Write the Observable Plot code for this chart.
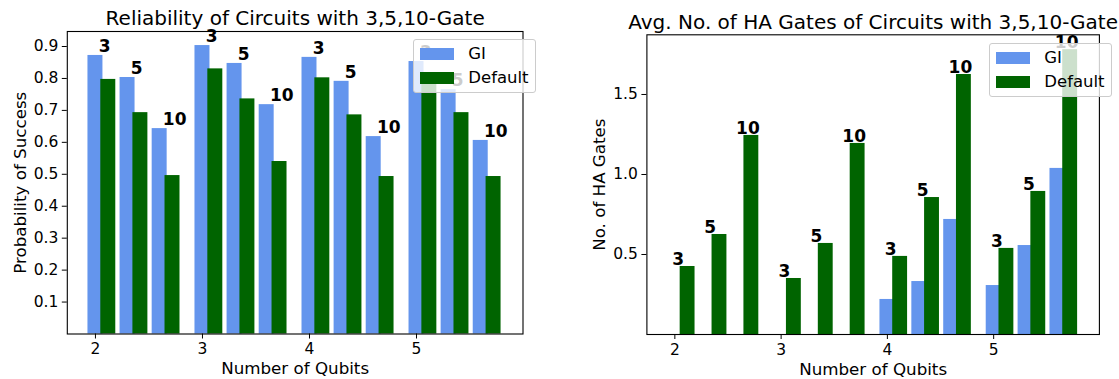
<!DOCTYPE html>
<html>
<head>
<meta charset="utf-8">
<script src="https://cdn.jsdelivr.net/npm/d3@7"></script>
<script src="https://cdn.jsdelivr.net/npm/@observablehq/plot@0.6"></script>
<style>
  html, body { margin: 0; padding: 0; background: #fff; }
  #fig { position: relative; width: 1119px; height: 379px; font-family: "DejaVu Sans", sans-serif; color: #000; }
  #fig > .panel { position: absolute; top: 0; }
  .legend { position: absolute; box-sizing: border-box; border: 1px solid #cccccc; border-radius: 3px;
            background: rgba(255,255,255,0.8); font-size: 16.5px; width: 123px; height: 54px; }
  .legend .item { position: absolute; left: 6px; height: 12px; width: 34px; }
  .legend .lab { position: absolute; left: 54px; line-height: 16px; }
</style>
</head>
<body>
<div id="fig"></div>
<script>
// ---- data ----
const qubits = [2, 3, 4, 5];
const gateLabels = ["3", "5", "10"];
const seriesNames = ["GI", "Default"];
const seriesColors = ["#6495ED", "#006400"];
// ordered by qubit, then gate count (3, 5, 10)
const giReliability      = [0.872, 0.803, 0.643, 0.903, 0.847, 0.718, 0.866, 0.791, 0.618, 0.853, 0.765, 0.606];
const defaultReliability = [0.797, 0.693, 0.496, 0.830, 0.736, 0.540, 0.802, 0.686, 0.493, 0.790, 0.693, 0.493];
const giHAGates          = [0, 0, 0, 0, 0, 0, 0.219, 0.331, 0.719, 0.306, 0.556, 1.038];
const defaultHAGates     = [0.425, 0.625, 1.244, 0.350, 0.569, 1.194, 0.488, 0.856, 1.625, 0.538, 0.894, 1.780];
const reliabilityTicks = [0.1, 0.2, 0.3, 0.4, 0.5, 0.6, 0.7, 0.8, 0.9];
const haTicks = [0.5, 1.0, 1.5];

// ---- layout constants ----
const gateOffset = [0, 0.3, 0.6];
const seriesOffset = [0, 0.12];
const barW = 0.14;

function buildRows(gi, def) {
  const rows = [];
  qubits.forEach((q, qi) => gateLabels.forEach((g, gi_) => {
    const k = qi * gateLabels.length + gi_;
    [gi[k], def[k]].forEach((v, s) => rows.push({
      q, g, s, series: seriesNames[s], v,
      xc: q + gateOffset[gi_] + seriesOffset[s]
    }));
  }));
  return rows;
}
function buildLabels(gi, def) {
  const rows = [];
  qubits.forEach((q, qi) => gateLabels.forEach((g, gi_) => {
    const k = qi * gateLabels.length + gi_;
    rows.push({ g, x: q + gateOffset[gi_], v: Math.max(gi[k], def[k]) });
  }));
  return rows;
}

function panel(opts) {
  const rows = buildRows(opts.gi, opts.def);
  const labels = buildLabels(opts.gi, opts.def);
  return Plot.plot({
    width: opts.width, height: 379,
    marginLeft: opts.ml, marginRight: opts.mr, marginTop: opts.mt, marginBottom: opts.mb,
    style: { fontFamily: "DejaVu Sans", fontSize: "15px", color: "#000", background: "transparent", overflow: "visible" },
    x: { domain: [1.737, 5.995] },
    y: { domain: [0, opts.ymax] },
    color: { domain: seriesNames, range: seriesColors },
    marks: [
      Plot.rect(rows, { x1: d => d.xc - barW / 2, x2: d => d.xc + barW / 2, y1: () => 0, y2: "v", fill: "series" }),
      Plot.text(labels, { x: d => d.x + opts.labDx, y: "v", text: "g", textAnchor: "start", lineAnchor: "bottom",
        dy: opts.labDy, fontWeight: "bold", fontSize: 17, fill: "#000" }),
      Plot.frame({ stroke: "#000", strokeWidth: 1.1 }),
      Plot.axisX({ ticks: qubits, tickFormat: d => String(d), tickSize: 5, tickPadding: 4, label: null, stroke: "#000", fontSize: 15.5 }),
      Plot.axisY({ ticks: opts.yticks, tickFormat: d3.format(".1f"), tickSize: 5, tickPadding: 4, label: null, stroke: "#000", fontSize: 15.5 }),
      Plot.text([opts.title], { frameAnchor: "top", dy: opts.titleDy, lineAnchor: "bottom", fontSize: 20, fill: "#000" }),
      Plot.text([opts.ylabel], { frameAnchor: "left", dx: opts.ylabDx, rotate: -90, textAnchor: "middle", lineAnchor: "middle", fontSize: 16.7, fill: "#000" }),
      Plot.text(["Number of Qubits"], { frameAnchor: "bottom", dy: 35, lineAnchor: "middle", fontSize: 16.7, fill: "#000" })
    ]
  });
}

const fig = document.getElementById("fig");

const left = panel({
  width: 560, ml: 66.8, mr: 37.5, mt: 31, mb: 45.5, ymax: 0.947,
  gi: giReliability, def: defaultReliability, yticks: reliabilityTicks,
  labDx: 0.03, labDy: -3.3, title: "Reliability of Circuits with 3,5,10-Gate", titleDy: -7,
  ylabel: "Probability of Success", ylabDx: -47
});
left.classList.add("panel"); left.style.left = "0px";
fig.appendChild(left);

const right = panel({
  width: 559, ml: 86.4, mr: 20.1, mt: 34.3, mb: 45, ymax: 1.873,
  gi: giHAGates, def: defaultHAGates, yticks: haTicks,
  labDx: -0.024, labDy: -1.5, title: "Avg. No. of HA Gates of Circuits with 3,5,10-Gate", titleDy: -5.5,
  ylabel: "No. of HA Gates", ylabDx: -47
});
right.classList.add("panel"); right.style.left = "560px";
fig.appendChild(right);

function legend(x, y) {
  const box = document.createElement("div");
  box.className = "legend";
  box.style.left = x + "px"; box.style.top = y + "px";
  seriesNames.forEach((name, i) => {
    const sw = document.createElement("div");
    sw.className = "item";
    sw.style.top = (7.5 + i * 24.5) + "px";
    sw.style.background = seriesColors[i];
    box.appendChild(sw);
    const t = document.createElement("div");
    t.className = "lab";
    t.style.top = (5.5 + i * 24.5) + "px";
    t.textContent = name;
    box.appendChild(t);
  });
  fig.appendChild(box);
}
legend(413.3, 39.3);
legend(989.3, 43.3);
</script>
</body>
</html>
